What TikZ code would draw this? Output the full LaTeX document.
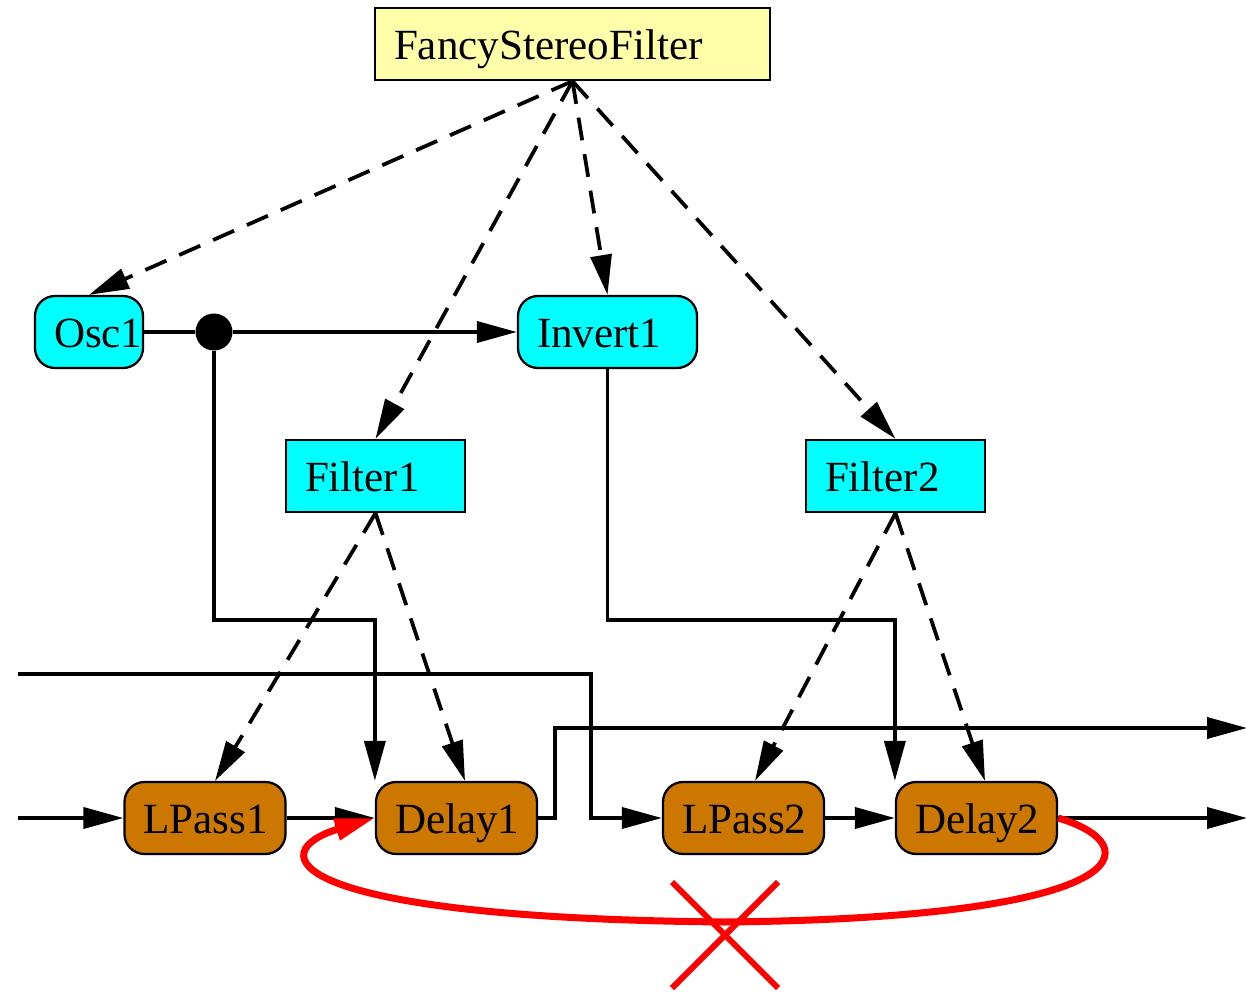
\documentclass[tikz,border=0pt]{standalone}
\usepackage{fontspec}
\setmainfont{Liberation Serif}
\usepackage{tikz}
\usetikzlibrary{arrows.meta,shapes}
\definecolor{voiceOrange}{RGB}{204,119,0}
\definecolor{topYellow}{RGB}{255,255,170}
\definecolor{moduleCyan}{RGB}{0,255,255}
\tikzset{%
  >={Triangle[length=8mm,width=4.2mm]},
  % Specifications for style of nodes:
          base/.style = {rectangle, draw=black, line width=0.45mm,
                         minimum height=14.4mm, inner xsep=3.8mm,
                         text height=6.3mm, text depth=0mm,
                         align=left, font=\fontsize{24.5}{29}\selectfont},
      topBox/.style = {base, fill=topYellow, text width=71.4mm},
   moduleBox/.style = {base, rounded corners=4mm, fill=moduleCyan},
   filterBox/.style = {base, fill=moduleCyan, text width=28.2mm},
    voiceBox/.style = {base, rounded corners=4mm, fill=voiceOrange,
                       text width=24.6mm},
    junction/.style = {circle, fill=black, inner sep=0pt, minimum size=7.4mm},
        wire/.style = {line width=0.75mm},
        ctrl/.style = {line width=0.75mm, dash pattern=on 4.6mm off 2.8mm},
    feedback/.style = {line width=1.4mm, red},
}

\begin{document}
\begin{tikzpicture}[x=0.2mm, y=-0.2mm]
\useasboundingbox (0,0) rectangle (1247,993);

\node (FSF)     [topBox]    at (572.5,44)  {FancyStereoFilter};

\node (Osc1)    [moduleBox, text width=14mm]   at (89,332)    {Osc1};
\node (Invert1) [moduleBox, text width=28.2mm] at (607.5,332) {Invert1};
\node (Dot)     [junction]  at (214,332)   {};

\node (Filter1) [filterBox] at (375.5,476) {Filter1};
\node (Filter2) [filterBox] at (895.5,476) {Filter2};

\node (LPass1)  [voiceBox]  at (205,818)   {LPass1};
\node (Delay1)  [voiceBox]  at (456.5,818) {Delay1};
\node (LPass2)  [voiceBox]  at (743.5,818) {LPass2};
\node (Delay2)  [voiceBox]  at (976.5,818) {Delay2};

\coordinate (InL)   at (18,818);
\coordinate (InR)   at (18,674);
\coordinate (Cross) at (591,818);
\coordinate (Jog)   at (555,818);
\coordinate (OutR)  at (1247,728);
\coordinate (OutL)  at (1247,818);
\coordinate (Bend)  at (214,620);
\coordinate (Cut)   at (725,935);

% audio wires
\draw[wire]     (Osc1) -- (Dot);
\draw[wire,->]  (Dot) -- (Invert1);
\draw[wire,->]  (Dot) -- (Bend) -| (Delay1.north west);
\draw[wire,->]  (Invert1.south) -- (Invert1.south |- Bend) -| (Delay2.north west);
\draw[wire,->]  (InL) -- (LPass1);
\draw[wire,->]  (InR) -| (Cross) -- (LPass2);
\draw[wire,->]  (LPass1) -- (Delay1);
\draw[wire,->]  (Delay1) -- (Jog) |- (OutR);
\draw[wire,->]  (LPass2) -- (Delay2);
\draw[wire,->]  (Delay2) -- (OutL);

% containment
\draw[ctrl,->]  (FSF.south) -- (Osc1.north);
\draw[ctrl,->]  (FSF.south) -- (Invert1.north);
\draw[ctrl,->]  (FSF.south) -- (Filter1.north);
\draw[ctrl,->]  (FSF.south) -- (Filter2.north);
\draw[ctrl,->]  (Filter1.south) -- ([xshift=2mm]LPass1.north);
\draw[ctrl,->]  (Filter1.south) -- ([xshift=1.7mm]Delay1.north);
\draw[ctrl,->]  (Filter2.south) -- ([xshift=2.3mm]LPass2.north);
\draw[ctrl,->]  (Filter2.south) -- ([xshift=1.7mm]Delay2.north);

% forbidden feedback
\draw[feedback,->] (Delay2.east) .. controls (1150,845) and (1140,918) .. (725,922)
                   .. controls (280,918) and (262,852) .. (Delay1.west);
\draw[feedback,line width=1.2mm]
  ([shift={(-53,-53)}]Cut) -- ([shift={(53,53)}]Cut)
  ([shift={(53,-53)}]Cut) -- ([shift={(-53,53)}]Cut);
\end{tikzpicture}
\end{document}
